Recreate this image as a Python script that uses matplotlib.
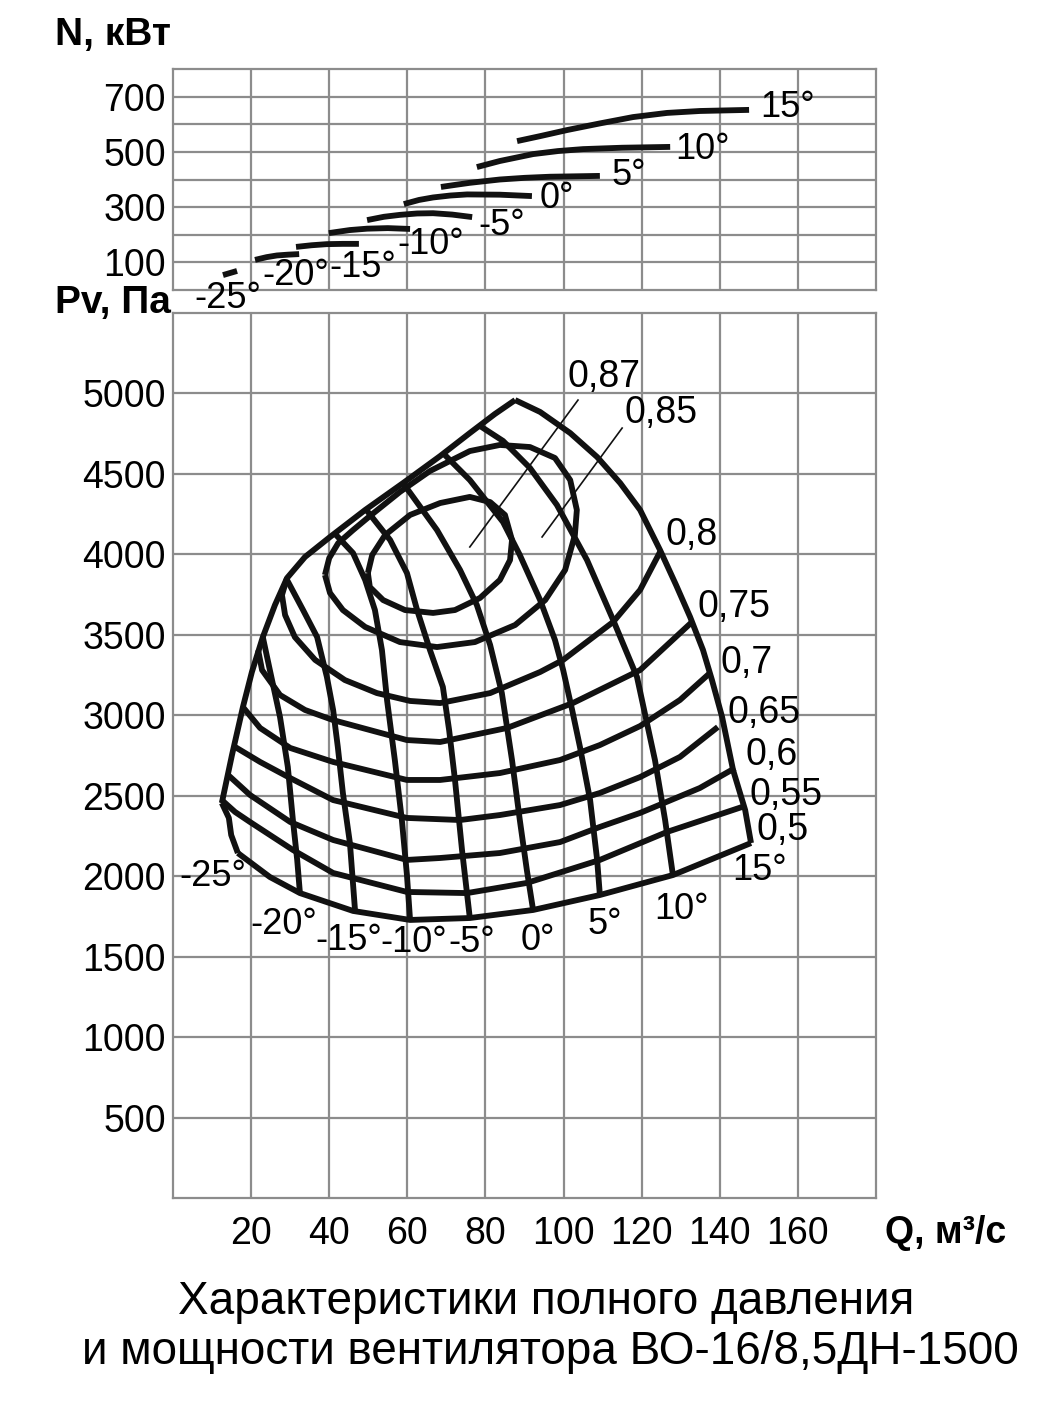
import matplotlib
matplotlib.use('Agg')
import matplotlib.pyplot as plt

plt.rcParams['font.family'] = ['Liberation Sans', 'DejaVu Sans']

GRID = '#8c8c8c'
INK = '#111111'

# ******** axes ********
q_ticks = [20, 40, 60, 80, 100, 120, 140, 160]
n_ticks = [100, 200, 300, 400, 500, 600, 700]
n_tick_labels = ['100', '', '300', '', '500', '', '700']
p_ticks = [500, 1000, 1500, 2000, 2500, 3000, 3500, 4000, 4500, 5000]

angle_names = ['-25°', '-20°', '-15°', '-10°', '-5°', '0°', '5°', '10°', '15°']

# ******** power N(Q), kW, one curve per blade angle ********
power_q = [
    [12.8, 16.4],
    [21.0, 24.0, 26.6, 29.5, 32.3],
    [31.5, 35.5, 39.4, 43.5, 47.6],
    [39.9, 45.3, 49.7, 55.0, 60.7],
    [49.7, 54.0, 58.1, 62.5, 66.6, 71.5, 76.6],
    [59.1, 63.0, 66.6, 71.0, 75.3, 83.7, 91.9],
    [68.6, 72.5, 76.0, 83.7, 90.0, 96.5, 109.3],
    [77.8, 83.7, 92.2, 98.6, 105.0, 115.0, 127.3],
    [88.1, 94.0, 100.9, 109.3, 117.8, 126.5, 134.9, 147.5],
]
power_n = [
    [54, 69],
    [109, 119, 125, 128, 130],
    [156, 162, 166, 167, 167],
    [206, 217, 222, 224, 221],
    [253, 265, 272, 277, 278, 273, 264],
    [311, 326, 335, 342, 346, 345, 340],
    [373, 381, 388, 400, 406, 410, 413],
    [445, 467, 492, 503, 510, 515, 518],
    [539, 557, 579, 603, 626, 641, 648, 652],
]

# ******** pressure Pv(Q), Pa, one curve per blade angle ********
blade_q = [
    [12.5, 14.3, 14.9, 16.6],
    [23.0, 24.8, 27.4, 29.4, 30.7, 31.8, 32.5],
    [29.2, 33.3, 36.9, 39.4, 41.0, 42.2, 43.5, 45.3, 46.6],
    [41.5, 46.1, 49.2, 51.7, 53.5, 54.8, 56.8, 58.6, 59.9, 60.7],
    [49.7, 55.6, 59.9, 62.5, 65.8, 69.1, 70.7, 72.2, 74.0, 76.0],
    [58.9, 67.6, 73.5, 77.8, 81.2, 84.2, 86.8, 88.8, 90.6, 92.2],
    [69.1, 76.0, 84.5, 88.8, 94.0, 97.8, 99.9, 102.2, 104.2, 106.8, 108.6, 109.3],
    [78.6, 84.5, 91.4, 98.3, 106.0, 112.7, 118.8, 123.4, 126.0, 128.0],
    [87.6, 94.0, 101.7, 108.6, 114.5, 119.6, 124.7, 128.8, 132.4, 135.7, 138.0,
     140.6, 143.4, 146.5, 148.0],
]
blade_p = [
    [2455, 2362, 2256, 2144],
    [3486, 3281, 2989, 2679, 2349, 2101, 1895],
    [3841, 3654, 3486, 3238, 3033, 2803, 2517, 2206, 1790],
    [4127, 4008, 3841, 3654, 3405, 3095, 2722, 2349, 2007, 1728],
    [4270, 4089, 3884, 3654, 3405, 3176, 2908, 2598, 2163, 1740],
    [4443, 4151, 3903, 3685, 3437, 3138, 2722, 2349, 2038, 1790],
    [4630, 4462, 4201, 3996, 3716, 3468, 3281, 3033, 2803, 2473, 2101, 1883],
    [4798, 4705, 4537, 4307, 3965, 3592, 3238, 2722, 2349, 2007],
    [4959, 4885, 4754, 4605, 4443, 4276, 4027, 3810, 3611, 3406, 3219,
     2989, 2660, 2411, 2206],
]

# stall line (upper-left boundary)
stall_q = [12.5, 15.1, 17.9, 20.2, 23.0, 26.1, 29.2, 33.8, 40.2, 49.2, 58.9,
           68.4, 76.0, 82.4, 87.6]
stall_p = [2455, 2753, 3051, 3269, 3486, 3685, 3853, 3984, 4108, 4276, 4443,
           4611, 4754, 4872, 4959]

# ******** efficiency curves ********
eff_names = ['0,5', '0,55', '0,6', '0,65', '0,7', '0,75', '0,8', '0,85', '0,87']
eff_q = [
    [16.6, 24.8, 32.5, 46.1, 60.7, 76.0, 92.2, 109.3, 128.0, 148.0],
    [12.5, 15.9, 19.7, 30.7, 41.0, 59.9, 75.3, 90.6, 109.3, 126.5, 145.7],
    [14.1, 19.7, 30.0, 41.0, 59.9, 68.4, 83.7, 99.1, 109.3, 119.6, 134.9, 143.9],
    [15.9, 22.3, 30.0, 41.0, 59.9, 73.5, 83.7, 99.1, 109.3, 119.6, 129.8, 139.5],
    [17.9, 22.3, 30.0, 41.0, 59.9, 68.4, 83.7, 99.1, 109.3, 119.6, 129.8, 137.5],
    [21.8, 22.8, 27.4, 33.8, 41.0, 59.9, 68.4, 85.5, 102.4, 119.6, 132.9],
    [29.2, 27.9, 28.7, 31.2, 36.4, 44.0, 52.2, 60.7, 68.4, 81.2, 94.0, 99.9,
     112.7, 119.6, 124.7],
    [38.9, 40.0, 42.3, 46.1, 50.4, 58.1, 65.8, 76.0, 83.7, 91.4, 97.8, 101.7,
     103.4, 102.9, 100.4, 95.3, 87.6, 77.3, 67.6, 58.1, 49.2, 43.5, 40.2, 38.9],
    [49.9, 51.0, 54.3, 60.7, 68.4, 76.0, 81.2, 85.0, 86.8, 86.3, 83.7, 78.6,
     72.2, 66.6, 59.4, 53.8, 50.4, 49.9],
]
eff_p = [
    [2144, 1995, 1895, 1784, 1728, 1740, 1790, 1883, 2007, 2206],
    [2473, 2399, 2337, 2163, 2020, 1902, 1895, 1958, 2101, 2275, 2430],
    [2629, 2505, 2337, 2225, 2101, 2113, 2144, 2212, 2306, 2393, 2548, 2672],
    [2803, 2710, 2610, 2473, 2362, 2349, 2380, 2442, 2517, 2616, 2741, 2927],
    [3051, 2921, 2797, 2710, 2598, 2598, 2641, 2722, 2815, 2933, 3095, 3263],
    [3405, 3281, 3126, 3033, 2970, 2846, 2834, 2921, 3076, 3281, 3580],
    [3853, 3747, 3623, 3486, 3344, 3219, 3138, 3089, 3076, 3138, 3269, 3344,
     3580, 3779, 4015],
    [3872, 3977, 4070, 4151, 4238, 4388, 4518, 4642, 4680, 4667, 4599, 4462,
     4276, 4120, 3903, 3716, 3561, 3455, 3424, 3455, 3549, 3654, 3760, 3872],
    [3884, 3996, 4120, 4245, 4319, 4357, 4325, 4245, 4089, 3965, 3841, 3729,
     3654, 3636, 3654, 3716, 3797, 3884],
]

# leader lines of the two inner loops
leader_q = [[76.0, 103.7], [94.5, 115.0]]
leader_p = [[4046, 4959], [4108, 4785]]


# ******** figure ********
W, H = 1055, 1418
fig = plt.figure(figsize=(W / 100, H / 100), dpi=100)
ax_n = fig.add_axes([173 / W, 1 - 290 / H, 703 / W, 221 / H])
ax_p = fig.add_axes([173 / W, 1 - 1198 / H, 703 / W, 885 / H])


def setup(ax, top, yticks, ylabels):
    ax.set_xlim(0, 180)
    ax.set_ylim(0, top)
    ax.set_xticks(q_ticks)
    ax.set_yticks(yticks)
    ax.set_yticklabels(ylabels)
    ax.grid(True, color=GRID, lw=1.6)
    ax.set_axisbelow(True)
    for s in ax.spines.values():
        s.set_color(GRID)
        s.set_linewidth(1.6)
    ax.tick_params(length=0, labelsize=27, pad=5)


setup(ax_n, 800, n_ticks, n_tick_labels)
ax_n.set_xticklabels([])
setup(ax_p, 5500, p_ticks, [str(v) for v in p_ticks])
ax_p.tick_params(axis='x', pad=13)

line_kw = dict(color=INK, lw=4.2, solid_capstyle='butt', solid_joinstyle='round')

# power curves
for q, n in zip(power_q, power_n):
    ax_n.plot(q, n, **line_kw)
n_label_pos = [(5.6, -29), (23.0, 54), (40.0, 80), (57.4, 163), (78.1, 235),
               (94.0, 333), (112.4, 416), (128.5, 507), (150.3, 659)]
for name, (x, y) in zip(angle_names, n_label_pos):
    ax_n.text(x, y, name, fontsize=26, ha='left', va='center', clip_on=False)

# pressure chart
ax_p.plot(stall_q, stall_p, **line_kw)
for q, p in zip(blade_q, blade_p):
    ax_p.plot(q, p, **line_kw)
for q, p in zip(eff_q, eff_p):
    ax_p.plot(q, p, **line_kw)
for q, p in zip(leader_q, leader_p):
    ax_p.plot(q, p, color=INK, lw=1.2)

blade_label_pos = [(10.2, 1995), (28.4, 1697), (45.1, 1603), (61.7, 1585),
                   (76.6, 1585), (93.5, 1603), (110.6, 1697), (130.1, 1790),
                   (150.3, 2038)]
for name, (x, y) in zip(angle_names, blade_label_pos):
    ax_p.text(x, y, name, fontsize=26, ha='center', va='center')

eff_label_pos = [(149.5, 2287), (147.7, 2505), (146.5, 2753), (142.1, 3014),
                 (140.1, 3325), (134.2, 3673), (126.0, 4120), (115.5, 4879),
                 (101.1, 5102)]
for name, (x, y) in zip(eff_names, eff_label_pos):
    ax_p.text(x, y, name, fontsize=27, ha='left', va='center')

# axis titles
fig.text(55 / W, 1 - 35 / H, 'N, кВт', fontsize=28, fontweight='bold',
         ha='left', va='center')
fig.text(55 / W, 1 - 303 / H, 'Pv, Па', fontsize=28, fontweight='bold',
         ha='left', va='center')
fig.text(885 / W, 1 - 1233 / H, 'Q, м³/с', fontsize=27, fontweight='bold',
         ha='left', va='center')

fig.text(546 / W, 1 - 1302 / H, 'Характеристики полного давления',
         fontsize=33, ha='center', va='center')
fig.text(550 / W, 1 - 1352 / H, 'и мощности вентилятора ВО-16/8,5ДН-1500',
         fontsize=33, ha='center', va='center')

fig.savefig('out.png', dpi=100, facecolor='white')
